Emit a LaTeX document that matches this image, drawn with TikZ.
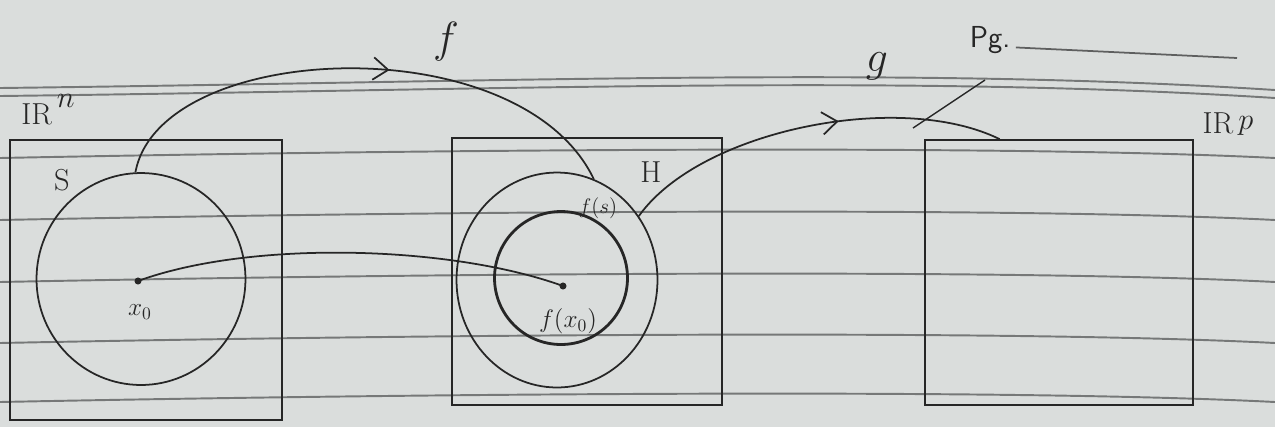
\documentclass[tikz,border=0pt]{standalone}
\usetikzlibrary{shapes.geometric,decorations.markings,arrows.meta,calc}
\definecolor{paper}{RGB}{218,221,220}
\definecolor{ink}{RGB}{38,38,38}
\definecolor{rulegray}{RGB}{118,120,120}
\begin{document}
\begin{tikzpicture}[x=0.02cm,y=-0.02cm,
  inkline/.style={draw=ink, color=ink, line width=1pt},
  box/.style={inkline, rectangle, inner sep=0pt},
  region/.style={inkline, ellipse, inner sep=0pt},
  lbl/.style={text=ink, inner sep=1pt},
  ruling/.style={draw=rulegray, line width=1.1pt},
  mapto/.style={inkline, postaction={decorate},
    decoration={markings, mark=at position #1 with {\arrow{Straight Barb[length=3mm,width=4.5mm]}}}},
  inkdot/.style={circle, fill=ink, inner sep=0pt, minimum size=4pt}
]
\fill[paper] (0,0) rectangle (1275,427);
\useasboundingbox (0,0) rectangle (1275,427);

% notebook ruling
\draw[ruling] (0,88) .. controls (500,82) and (900,66) .. (1275,90);
\draw[ruling] (0,96) .. controls (500,90) and (900,74) .. (1275,98);
\foreach \yy in {158,220,282,343,402}
  \draw[ruling] (0,\yy) .. controls (400,\yy-8) and (1000,\yy-14) .. (1275,\yy);

% boxes
\node[box, minimum width=5.44cm, minimum height=5.6cm] (B1) at (146,280) {};
\node[box, minimum width=5.4cm, minimum height=5.34cm] (B2) at (587,271.5) {};
\node[box, minimum width=5.36cm, minimum height=5.3cm] (B3) at (1059,272.5) {};

% sets
\node[region, minimum width=4.18cm, minimum height=4.24cm] (S) at (141,279) {};
\node[region, minimum width=4.02cm, minimum height=4.3cm] (O) at (557,280) {};
\node[region, line width=1.6pt, minimum width=2.66cm, minimum height=2.66cm] (I) at (561,278) {};

% points
\node[inkdot] (x0) at (138,281) {};
\node[inkdot] (fx0) at (563,286) {};

% maps
\draw[mapto=0.55] (S.93) .. controls (160,40) and (520,25) .. (O.70);
\coordinate (gEnd) at ($(B3.north west)!0.28!(B3.north east)$);
\draw[mapto=0.58] (O.38) .. controls (700,130) and (900,90) .. (gEnd);
\draw[inkline] (x0.center) .. controls (250,240) and (450,245) .. (fx0.center);

% stray stroke
\coordinate (s1) at (913,128);
\coordinate (s2) at (985,80);
\draw[inkline, line width=0.8pt] (s1) -- (s2);

% labels
\node[lbl, font=\LARGE] (Rn) at (48,110) {IR\,\raisebox{1.3ex}{$n$}};
\node[lbl, font=\LARGE] (Sl) at (62,180) {S};
\node[lbl, font=\LARGE] (Hl) at (651,172) {H};
\node[lbl, font=\large] (fsl) at (598,208) {$f(s)$};
\node[lbl, font=\Large] (fx0l) at (568,321) {$f(x_0)$};
\node[lbl, font=\Large] (x0l) at (140,312) {$x_0$};
\node[lbl, font=\Huge] (fl) at (446,42) {$f$};
\node[lbl, font=\Huge] (gl) at (877,66) {$g$};
\node[lbl, font=\sffamily\LARGE] (pg) at (990,40) {Pg.};
\coordinate (pgEnd) at (1237,58);
\draw[draw=rulegray!70!ink, line width=1pt] ([xshift=2pt]pg.base east) -- (pgEnd);
\node[lbl, font=\LARGE] (Rp) at (1228,124) {IR\,\raisebox{0.3ex}{$p$}};
\end{tikzpicture}
\end{document}
